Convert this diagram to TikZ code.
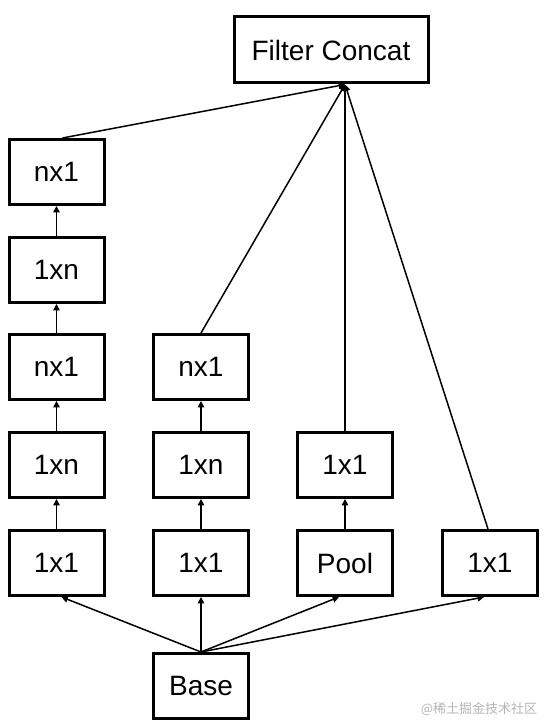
\documentclass[tikz,border=0pt]{standalone}
\usepackage{fontspec}
\setmainfont{Liberation Sans}
\newfontfamily\cjkfont{Noto Sans CJK SC}
\usetikzlibrary{arrows.meta,calc}
\definecolor{incInk}{HTML}{000000}
\definecolor{incMark}{HTML}{B4B4B4}
\tikzset{
 incep/.style={font=\fontsize{14}{16}\selectfont,text=incInk},
 layer/.style={rectangle,draw=incInk,fill=white,line width=1.5pt,inner sep=0pt,
   minimum width=47.5pt,minimum height=32.5pt},
 concatbox/.style={layer,minimum width=97pt,minimum height=33pt},
 feed/.style={draw=incInk,line width=.75pt,-{Triangle[length=3.2pt,width=3.2pt]}},
 watermark/.style={font=\cjkfont\fontsize{6.5}{8}\selectfont,text=incMark,inner sep=0pt}
}

\begin{document}
\begin{tikzpicture}[incep,x=.5pt,y=.5pt]
 \useasboundingbox (0,0) rectangle (545,725);
 \node[concatbox] (concat) at (331,675) {Filter Concat};
 \coordinate (hub) at ($(concat.south)+(14,0)$);
 % column 1
 \node[layer] (a1) at (56.5,162) {1x1};
 \node[layer] (a2) at (56.5,260) {1xn};
 \node[layer] (a3) at (56.5,358) {nx1};
 \node[layer] (a4) at (56.5,455) {1xn};
 \node[layer] (a5) at (56.5,553) {nx1};
 % column 2
 \node[layer] (b1) at (201,162) {1x1};
 \node[layer] (b2) at (201,260) {1xn};
 \node[layer] (b3) at (201,358) {nx1};
 % column 3 and 4
 \node[layer] (c1) at (345,162) {Pool};
 \node[layer] (c2) at (345,260) {1x1};
 \node[layer] (d1) at (490,162) {1x1};
 \node[layer] (base) at (201,39) {Base};
 \draw[feed] (a1)--(a2);
 \draw[feed] (a2)--(a3);
 \draw[feed] (a3)--(a4);
 \draw[feed] (a4)--(a5);
 \draw[feed] (b1)--(b2);
 \draw[feed] (b2)--(b3);
 \draw[feed] (c1)--(c2);
 \draw[feed] (base.north)--($(a1.south)+(5,0)$);
 \draw[feed] (base.north)--(b1.south);
 \draw[feed] (base.north)--($(c1.south)+(-6,0)$);
 \draw[feed] (base.north)--($(d1.south)+(-6,0)$);
 \draw[feed] ($(a5.north)+(6,0)$)--(hub);
 \draw[feed] (b3.north)--(hub);
 \draw[feed] (c2.north)--(hub);
 \draw[feed] ($(d1.north)+(-2,0)$)--(hub);
 \node[watermark] (mark) at (479,16) {@稀土掘金技术社区};
\end{tikzpicture}
\end{document}
